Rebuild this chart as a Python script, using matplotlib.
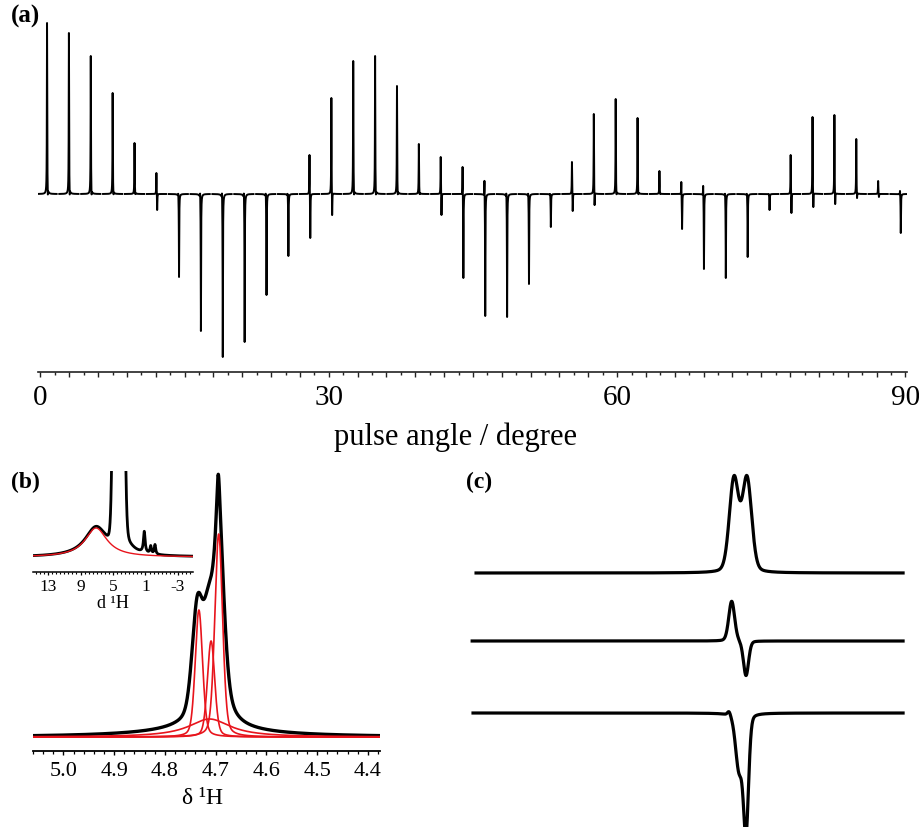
import numpy as np
import matplotlib
matplotlib.use("Agg")
import matplotlib.pyplot as plt
from matplotlib.ticker import FixedLocator, FuncFormatter, MultipleLocator

plt.rcParams['font.family'] = ['Liberation Serif', 'DejaVu Serif']

# ---------------- data ----------------
# (a) 40 spectra vs pulse angle: height of positive and negative lobe (a.u.)
pulse_angles = np.linspace(0.68, 89.43, 40)
pos_int = [171, 161, 138, 101, 51, 21, 0, 0, 0, 0, 0, 0, 39, 96, 133, 138, 108, 50, 37, 27,
           13, 0, 0, 0, 32, 80, 95, 76, 23, 12, 8, 0, 0, 0, 39, 77, 79, 55, 13, 3]
neg_int = [0, 0, 0, 0, 0, 16, 83, 137, 163, 148, 101, 62, 44, 21, 0, 0, 0, 0, 21, 84,
           122, 123, 90, 33, 17, 11, 0, 0, 0, 35, 75, 84, 63, 16, 19, 13, 10, 4, 3, 39]
a_tick_labels = [0, 30, 60, 90]

# (b) red deconvolution components: centre (ppm), height, HWHM (ppm), Lorentzian fraction
b_red_centres = [4.694, 4.733, 4.709, 4.712]
b_red_heights = [203, 127, 96, 18]
b_red_widths = [0.009, 0.0085, 0.0085, 0.05]
b_red_eta = [0.3, 0.3, 0.3, 1.0]
# (b) measured (black) spectrum components
b_blk_centres = [4.693, 4.695, 4.736, 4.714, 4.715, 4.72]
b_blk_heights = [170, 55, 100, 65, 35, 6]
b_blk_widths = [0.012, 0.004, 0.012, 0.011, 0.03, 0.15]
b_blk_eta = [0.5, 1.0, 0.2, 0.2, 1.0, 1.0]
b_ticks = [5.0, 4.9, 4.8, 4.7, 4.6, 4.5, 4.4]

# (b) inset
ins_red = (7.09, 29, 1.65)
ins_peak_centres = [4.3, 3.8, 1.15, 0.36, -0.17]
ins_peak_heights = [2000, 20, 21, 7.5, 9.5]
ins_peak_widths = [0.4, 1.0, 0.12, 0.1, 0.1]
ins_peak_eta = [0.0, 1.0, 1.0, 1.0, 1.0]
ins_ticks = [13, 9, 5, 1, -3]

# (c) three traces: components centre (ppm), amplitude, HWHM (ppm)
c1_centres, c1_amps, c1_widths = [4.730, 4.700], [93, 93], [0.0127, 0.0127]
c2_centres, c2_amps, c2_widths = [4.7353, 4.7023], [40, -35], [0.008, 0.007]
c3_centres, c3_amps, c3_widths = [4.7415, 4.7185, 4.7023], [4, -55, -115], [0.004, 0.0092, 0.007]


# ---------------- helpers ----------------
def lor(x, c, h, w):
    return h * w ** 2 / ((x - c) ** 2 + w ** 2)


def gau(x, c, h, w):
    return h * np.exp(-np.log(2) * (x - c) ** 2 / w ** 2)


def pv(x, c, h, w, eta):
    return eta * lor(x, c, h, w) + (1 - eta) * gau(x, c, h, w)


fig = plt.figure(figsize=(9.2, 8.28), dpi=100)


def px_axes(x0, y0, x1, y1):
    return fig.add_axes([x0 / 920, 1 - y1 / 828, (x1 - x0) / 920, (y1 - y0) / 828])


# ---------------- panel (a) ----------------
pxdeg = 9.611
axA = px_axes(38, 15, 907, 373)
axA.set_xlim((38 - 40.5) / pxdeg, (907 - 40.5) / pxdeg)
axA.set_ylim(-178, 180)
W = 0.02
D = 0.08
k = W ** 2 / (D ** 2 + W ** 2)
for c, P, N in zip(pulse_angles, pos_int, neg_int):
    p = (P + k * N) / (1 - k ** 2)
    n = (N + k * P) / (1 - k ** 2)
    x = np.linspace(c - 1.0, c + 1.0, 1601)
    y = lor(x, c, p, W) - lor(x, c + D, n, W)
    axA.plot(x, y, color='k', lw=1.4)
for s in ['top', 'left', 'right']:
    axA.spines[s].set_visible(False)
axA.spines['bottom'].set_linewidth(1.2)
axA.spines['bottom'].set_color('#222222')
axA.set_yticks([])
axA.xaxis.set_major_locator(FixedLocator(np.arange(0, 91, 3)))
axA.xaxis.set_minor_locator(FixedLocator(np.arange(1.5, 90, 3)))
axA.xaxis.set_major_formatter(FuncFormatter(
    lambda v, p: f"{int(round(v))}" if int(round(v)) in a_tick_labels else ""))
axA.tick_params(axis='x', which='major', length=3.5, width=1.0, labelsize=21, pad=5, color='#222222')
axA.tick_params(axis='x', which='minor', length=2, width=1.0, color='#222222')
fig.text(456 / 920, 1 - 437 / 828, "pulse angle / degree", ha='center', va='center', fontsize=22)

# ---------------- panel (b) ----------------
axB = px_axes(33, 465, 380, 752)
axB.set_xlim(5.06, 4.376)
axB.set_ylim(-14, 273)
xb = np.linspace(5.06, 4.376, 4000)
reds = [pv(xb, c, h, w, e) for c, h, w, e in zip(b_red_centres, b_red_heights, b_red_widths, b_red_eta)]
black_b = np.zeros_like(xb)
for c, h, w, e in zip(b_blk_centres, b_blk_heights, b_blk_widths, b_blk_eta):
    black_b = black_b + pv(xb, c, h, w, e)
axB.plot(xb, black_b, color='k', lw=2.4, zorder=2)
for r in reds:
    axB.plot(xb, r, color='#e8141c', lw=1.2, zorder=3)
for s in ['top', 'left', 'right']:
    axB.spines[s].set_visible(False)
axB.spines['bottom'].set_linewidth(1.3)
axB.set_yticks([])
axB.xaxis.set_major_locator(FixedLocator(b_ticks))
axB.xaxis.set_major_formatter(FuncFormatter(lambda v, p: f"{v:.1f}"))
axB.xaxis.set_minor_locator(MultipleLocator(0.02))
axB.tick_params(axis='x', which='major', length=3, width=1.0, labelsize=16, pad=4)
axB.tick_params(axis='x', which='minor', length=2, width=0.9)
axB.patch.set_alpha(0)
fig.text(203 / 920, 1 - 799 / 828, "δ ¹H", ha='center', va='center', fontsize=17)

# inset
axI = px_axes(33, 472, 193, 573)
axI.set_xlim(14.85, -4.85)
axI.set_ylim(-15, 86)
xi = np.linspace(14.85, -4.85, 3000)
red_i = lor(xi, *ins_red)
black_i = red_i.copy()
for c, h, w, e in zip(ins_peak_centres, ins_peak_heights, ins_peak_widths, ins_peak_eta):
    black_i = black_i + pv(xi, c, h, w, e)
axI.plot(xi, black_i, color='k', lw=2.0)
axI.plot(xi, red_i, color='#e8141c', lw=1.0)
for s in ['top', 'left', 'right']:
    axI.spines[s].set_visible(False)
axI.spines['bottom'].set_linewidth(1.1)
axI.set_yticks([])
axI.xaxis.set_major_locator(FixedLocator(ins_ticks))
axI.xaxis.set_major_formatter(FuncFormatter(lambda v, p: f"{int(round(v))}"))
axI.xaxis.set_minor_locator(MultipleLocator(0.5))
axI.tick_params(axis='x', which='major', length=2.5, width=0.9, labelsize=12.5, pad=2)
axI.tick_params(axis='x', which='minor', length=1.5, width=0.8)
axI.patch.set_alpha(0)
fig.text(113 / 920, 1 - 603 / 828, "d ¹H", ha='center', va='center', fontsize=13)

# ---------------- panel (c) ----------------
axC = px_axes(470, 465, 910, 828)
axC.set_xlim(5.339, 4.324)
axC.set_ylim(0, 363)
axC.axis('off')
traces = [
    (c1_centres, c1_amps, c1_widths, 254, 5.325),
    (c2_centres, c2_amps, c2_widths, 186, 5.334),
    (c3_centres, c3_amps, c3_widths, 114, 5.332),
]
for cs, hs, ws, off, xl in traces:
    xc = np.linspace(xl, 4.34, 3000)
    yc = np.zeros_like(xc)
    for c, h, w in zip(cs, hs, ws):
        yc = yc + pv(xc, c, h, w, 0.2)
    axC.plot(xc, yc + off, color='k', lw=2.3, clip_on=True)

# panel labels
fig.text(11 / 920, 1 - 5 / 828, "(a)", ha='left', va='top', fontsize=18, fontweight='bold')
fig.text(11 / 920, 1 - 472 / 828, "(b)", ha='left', va='top', fontsize=17, fontweight='bold')
fig.text(466 / 920, 1 - 472 / 828, "(c)", ha='left', va='top', fontsize=17, fontweight='bold')

fig.savefig("out.png", dpi=100)
